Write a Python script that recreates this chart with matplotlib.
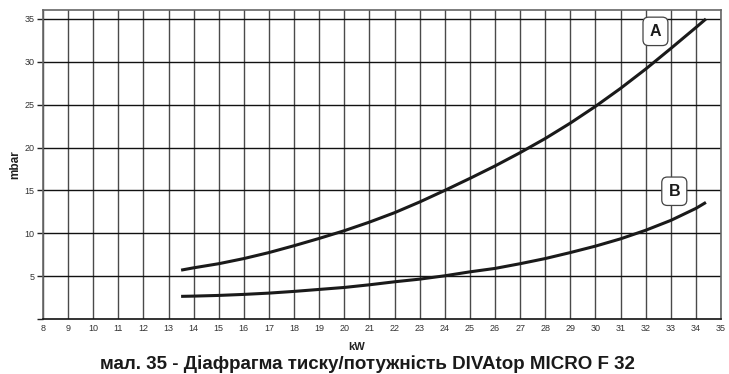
import matplotlib
matplotlib.use("Agg")
import matplotlib.pyplot as plt

# Data
x_kw = [13.5, 14, 15, 16, 17, 18, 19, 20, 21, 22, 23, 24, 25, 26, 27, 28, 29, 30, 31, 32, 33, 34, 34.4]
curve_a = [5.70, 5.97, 6.45, 7.05, 7.75, 8.55, 9.40, 10.30, 11.30, 12.40, 13.65, 15.00,
           16.40, 17.85, 19.40, 21.05, 22.85, 24.80, 26.90, 29.15, 31.55, 34.00, 35.00]
curve_b = [2.64, 2.67, 2.75, 2.87, 3.02, 3.22, 3.45, 3.68, 3.99, 4.34, 4.65, 5.04,
           5.50, 5.90, 6.45, 7.05, 7.75, 8.50, 9.35, 10.35, 11.50, 12.90, 13.60]
x_ticks = list(range(8, 36))
y_ticks = [0, 5, 10, 15, 20, 25, 30, 35]
y_tick_labels = ["", "5", "10", "15", "20", "25", "30", "35"]
labels = ["A", "B"]
label_pos = [(32.39, 33.55), (33.14, 14.9)]

title = "мал. 35 - Діафрагма тиску/потужність DIVAtop MICRO F 32"

plt.rcParams['font.family'] = ['Liberation Sans', 'DejaVu Sans']

fig = plt.figure(figsize=(7.29, 3.74), dpi=100)
ax = fig.add_axes([43 / 729, 1 - 319 / 374, (721 - 43) / 729, (319 - 9.5) / 374])

ax.set_xlim(8, 35)
ax.set_ylim(0, 36.1)

# grid
for xv in x_ticks:
    ax.axvline(xv, color="#4a4a4a", lw=1.0, zorder=1)
for yv in y_ticks[1:]:
    ax.axhline(yv, color="#111111", lw=1.0, zorder=1)

ax.plot(x_kw, curve_a, color="#1a1a1a", lw=2.2, solid_capstyle="butt", zorder=3)
ax.plot(x_kw, curve_b, color="#1a1a1a", lw=2.2, solid_capstyle="butt", zorder=3)

for lab, (lx, ly) in zip(labels, label_pos):
    ax.text(lx, ly, lab, ha="center", va="center", fontsize=11.5, fontweight="bold",
            color="#1a1a1a", zorder=5,
            bbox=dict(boxstyle="round,pad=0.42,rounding_size=0.35", fc="white",
                      ec="#444444", lw=0.9))

tick_family = ['Liberation Sans Narrow', 'Liberation Sans']
ax.set_xticks(x_ticks)
ax.set_xticklabels([str(v) for v in x_ticks], fontsize=6.5, color="#333333",
                   family=tick_family)
ax.set_yticks(y_ticks)
ax.set_yticklabels(y_tick_labels, fontsize=6.5, color="#333333", family=tick_family)
ax.tick_params(axis="x", length=0, pad=3.5)
ax.tick_params(axis="y", length=4, width=1.0, color="#222222", pad=2)

for side in ["left", "top", "right"]:
    ax.spines[side].set_color("#666666")
    ax.spines[side].set_linewidth(1.2)
ax.spines["bottom"].set_color("#111111")
ax.spines["bottom"].set_linewidth(1.2)

fig.text(15 / 729, 1 - 165 / 374, "mbar", rotation=90, ha="center", va="center",
         fontsize=8.5, fontweight="bold", color="#222222")
fig.text(357 / 729, 1 - 347 / 374, "kW", ha="center", va="center",
         fontsize=8, fontweight="bold", color="#222222")
fig.text(367.5 / 729, 1 - 364 / 374, title, ha="center", va="center",
         fontsize=13.5, fontweight="bold", color="#1a1a1a")

fig.savefig("out.png", dpi=100)
